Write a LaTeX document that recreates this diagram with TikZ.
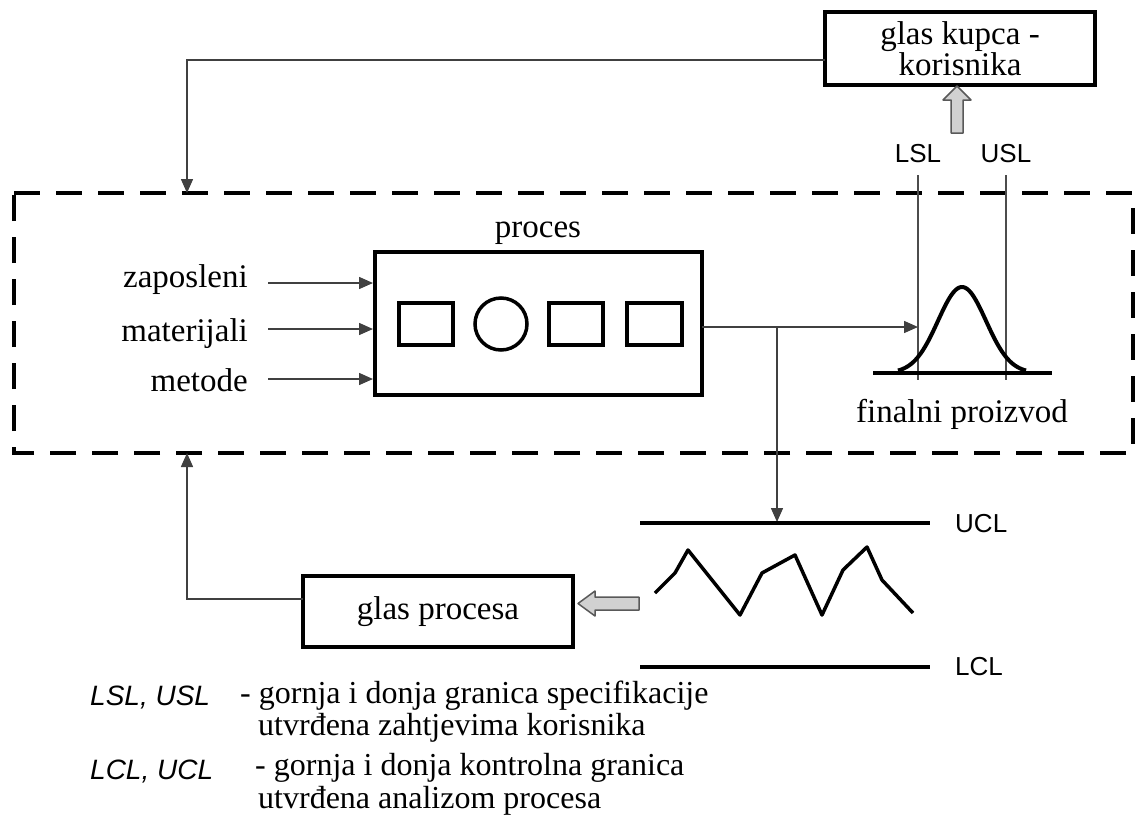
\documentclass[tikz,border=0pt]{standalone}
\usepackage{fontspec}
\setmainfont{Liberation Serif}
\setsansfont{Liberation Sans}
\usetikzlibrary{arrows.meta}
\tikzset{
  thinline/.style={line width=1.5pt, draw=black!75},
  arr/.style={thinline, -{Triangle[length=14pt,width=12pt]}},
  boxthick/.style={draw, line width=4pt, inner sep=0pt},
  shapethick/.style={draw, line width=3.5pt, inner sep=0pt},
  serif/.style={font=\fontsize{33}{31}\selectfont, inner sep=0pt},
  legserif/.style={font=\fontsize{32}{31}\selectfont, inner sep=0pt},
  sanslbl/.style={font=\fontsize{26}{28}\selectfont\sffamily, inner sep=0pt},
  sansit/.style={font=\fontsize{28}{28}\selectfont\sffamily\itshape, inner sep=0pt},
  hollow/.style={fill=black!18, draw=black!65, line width=1.5pt, line join=round},
  dashbox/.style={line width=4pt, dash pattern=on 26pt off 16pt},
}
\begin{document}
\begin{tikzpicture}[x=1pt,y=-1pt]
\useasboundingbox (0,0) rectangle (1136,820);
% loop boundary
\draw[dashbox] (14,193) -- (1133,193) -- (1133,453) -- (14,453) -- cycle;
% customer voice box
\node[boxthick, serif, minimum width=270pt, minimum height=73pt, align=center] (kupac) at (960,48.5) {glas kupca -\\korisnika};
% process box
\node[boxthick, minimum width=327pt, minimum height=143pt] (proc) at (538.5,323.5) {};
\node[serif, anchor=base] (proclbl) at (538,237) {proces};
\node[shapethick, minimum width=54pt, minimum height=42pt] (r1) at (426,324) {};
\node[shapethick, circle, minimum size=52pt] (c1) at (501,324) {};
\node[shapethick, minimum width=54pt, minimum height=42pt] (r2) at (576,324) {};
\node[shapethick, minimum width=55pt, minimum height=42pt] (r3) at (654.5,324) {};
% inputs
\node[serif, anchor=base east] (zap) at (248,287) {zaposleni};
\node[serif, anchor=base east] (mat) at (248,341) {materijali};
\node[serif, anchor=base east] (met) at (248,391) {metode};
\coordinate (in1) at (268,283);
\coordinate (in2) at (268,329);
\coordinate (in3) at (268,379);
\draw[arr] (in1) -- (in1 -| proc.west);
\draw[arr] (in2) -- (in2 -| proc.west);
\draw[arr] (in3) -- (in3 -| proc.west);
% output
\coordinate (o1) at (702,327);
\coordinate (bellL) at (918,327);
\coordinate (br) at (777,327);
\coordinate (uclhit) at (777,522);
\draw[arr] (o1) -- (bellL);
\draw[arr] (br) -- (uclhit);
% spec limits and bell curve
\node[sanslbl, anchor=base] (lsl) at (918,162) {LSL};
\node[sanslbl, anchor=base] (usl) at (1006,162) {USL};
\coordinate (lslT) at (918,175);
\coordinate (lslB) at (918,380);
\coordinate (uslT) at (1006,175);
\coordinate (uslB) at (1006,380);
\draw[line width=1.2pt, draw=black!70] (lslT) -- (lslB);
\draw[line width=1.2pt, draw=black!70] (uslT) -- (uslB);
\draw[line width=4pt] (873,373) -- (1052,373);
\draw[line width=4pt, line join=round] plot[domain=898:1026, samples=80, smooth] (\x, {373-86*exp(-0.5*((\x-962)/24)*((\x-962)/24))});
\node[serif, anchor=base] (fin) at (962,422) {finalni proizvod};
% hollow up arrow
\draw[hollow] (951,133) -- (963,133) -- (963,100) -- (971,100) -- (957,86) -- (943,100) -- (951,100) -- cycle;
% feedback from customer
\coordinate (k1) at (825,60);
\coordinate (dtop) at (187,193);
\draw[arr] (k1) -| (dtop);
% control chart
\draw[line width=4pt] (640,523) -- (930,523);
\draw[line width=4pt] (640,667) -- (930,667);
\node[sanslbl, anchor=base west] (ucl) at (955,532) {UCL};
\node[sanslbl, anchor=base west] (lcl) at (955,675) {LCL};
\draw[line width=3.5pt, line join=round] (655,593) -- (675,573) -- (688,550) -- (740,615) -- (762,573) -- (795,555) -- (822,615) -- (843,570) -- (867,547) -- (882,580) -- (913,613);
% hollow left arrow
\draw[hollow] (639,597) -- (595,597) -- (595,591) -- (578,603.5) -- (595,616) -- (595,610) -- (639,610) -- cycle;
% process voice box
\node[boxthick, serif, minimum width=270pt, minimum height=71pt] (glasp) at (438,611.5) {glas procesa};
\coordinate (g1) at (303,599);
\coordinate (dbot) at (187,453);
\draw[arr] (g1) -| (dbot);
% legend
\node[sansit, anchor=base west] (leg1) at (90,705) {LSL, USL};
\node[legserif, anchor=base west] (leg1a) at (240,703) {- gornja i donja granica specifikacije};
\node[legserif, anchor=base west] (leg1b) at (258,735) {utvrđena zahtjevima korisnika};
\node[sansit, anchor=base west] (leg2) at (90,779) {LCL, UCL};
\node[legserif, anchor=base west] (leg2a) at (255,775) {- gornja i donja kontrolna granica};
\node[legserif, anchor=base west] (leg2b) at (258,808) {utvrđena analizom procesa};
\end{tikzpicture}
\end{document}
